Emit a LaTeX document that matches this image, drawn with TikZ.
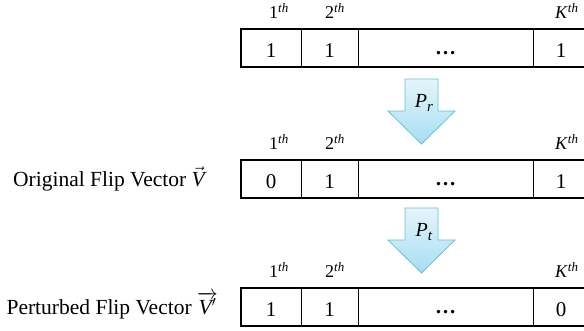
\documentclass[tikz,border=0pt]{standalone}
\usepackage{fontspec}
\setmainfont{Liberation Serif}
\definecolor{arrowtop}{HTML}{E4F5FB}
\definecolor{arrowbot}{HTML}{A6DEF1}
\definecolor{arrowedge}{HTML}{6BBFDC}
\newcommand{\ordlab}[1]{#1\raisebox{6.5pt}{\fontsize{13}{13}\selectfont\textit{th}}}
\newcommand{\plab}[1]{\textit{P}\raisebox{-4pt}{\fontsize{15}{15}\selectfont\textit{#1}}}
\begin{document}
\begin{tikzpicture}[x=1pt,y=-1pt,
  cell/.style={draw, line width=0.8pt, minimum height=38pt, inner sep=0pt, outer sep=0pt,
    text height=20pt, text depth=0.8pt,
    font=\fontsize{21}{21}\selectfont, anchor=west},
  ord/.style={anchor=base west, inner sep=0pt, font=\fontsize{18}{18}\selectfont},
  side/.style={anchor=base east, inner sep=0pt, font=\fontsize{21.5}{21.5}\selectfont},
  barline/.style={line width=2pt},
  blockarrow/.style={top color=arrowtop, bottom color=arrowbot, draw=arrowedge, line width=0.8pt, line join=miter},
  plabel/.style={anchor=base, inner sep=0pt, font=\fontsize{20}{20}\selectfont}]
\useasboundingbox (0,0) rectangle (584,331);
\foreach \r/\t/\a/\b/\c in {1/29/1/1/1, 2/160/0/1/1, 3/288/1/1/0}{
  \node[cell, minimum width=60pt] (c\r1) at (241,\t+19) {\a};
  \node[cell, minimum width=57pt] (c\r2) at (c\r1.east) {\b};
  \node[cell, minimum width=175pt] (c\r3) at (c\r2.east) {\raisebox{3pt}{\textbf{\ldots}}};
  \node[cell, minimum width=56pt] (c\r4) at (c\r3.east) {\c};
  \draw[barline] (c\r4.north east) -- (c\r1.north west) -- (c\r1.south west) -- (c\r4.south east);
  \node[ord] (o\r1) at (269,\t-10) {\ordlab{1}};
  \node[ord] (o\r2) at (325,\t-10) {\ordlab{2}};
  \node[ord] (o\r4) at (555,\t-10) {\ordlab{\textit{K}}};
}
\foreach \y/\s in {79/r, 208/t}{
  \path[blockarrow] (405,\y) -- (438,\y) -- (438,\y+32) -- (455,\y+32) -- (421.5,\y+65)
    -- (388,\y+32) -- (405,\y+32) -- cycle;
  \node[plabel] (p\s) at (424,\y+29) {\plab{\s}};
}
\node[side] (lab2) at (205,187) {Original Flip Vector $\vec{\textit{V}}$};
\node[side] (lab3) at (218,315) {Perturbed Flip Vector $\overrightarrow{\textit{V}'}$};
\end{tikzpicture}
\end{document}
